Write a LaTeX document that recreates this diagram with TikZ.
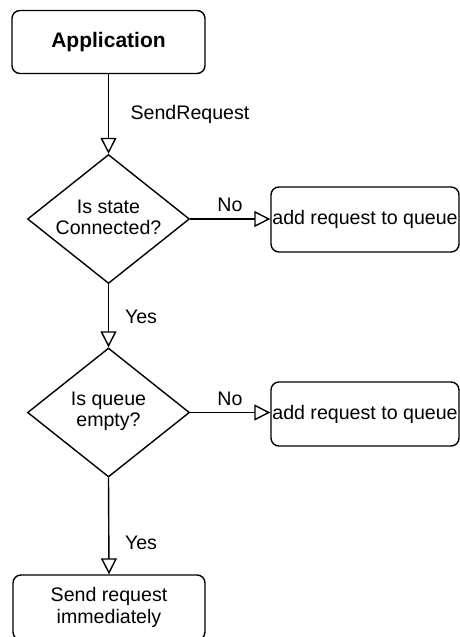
\documentclass[tikz,border=0pt]{standalone}
\usepackage{fontspec}
\setmainfont{Liberation Sans}
\usetikzlibrary{arrows.meta,shapes.geometric}
\begin{document}
\begin{tikzpicture}[x=1pt,y=-1pt,
  font=\fontsize{19.6}{21.5}\selectfont,
  line width=1.4pt,
  flow/.style={-{Triangle[open,length=16pt,width=16pt,line width=1.4pt]}},
  proc/.style={draw, rounded corners=8pt, inner sep=0pt, align=center},
  dec/.style={draw, diamond, inner sep=0pt, minimum width=162pt, minimum height=129pt},
  txt/.style={inner sep=0pt, align=center},
  lbl/.style={inner sep=0pt}]
  \clip (0,0) rectangle (460,637);
  \useasboundingbox (0,0) rectangle (460,637);

  % boxes
  \node[proc, minimum width=193pt, minimum height=63pt,
        font=\fontsize{21}{24}\selectfont\bfseries] (app) at (108.5,42) {Application};
  \node[dec] (d1) at (108.5,219) {};
  \node[txt] (t1) at (108.5,217.5) {Is state\\Connected?};
  \node[proc, minimum width=188pt, minimum height=65pt] (q1) at (365,219.5) {add request to queue};
  \node[dec] (d2) at (108.5,412.5) {};
  \node[txt] (t2) at (108.5,411.5) {Is queue\\empty?};
  \node[proc, minimum width=188pt, minimum height=64pt] (q2) at (365,414) {add request to queue};
  \node[proc, minimum width=192pt, minimum height=65pt] (send) at (109,607.5) {Send request\\immediately};

  % connectors
  \draw[flow] (app.south) -- (d1.north);
  \draw[flow] (d1.east) -- (d1.east -| q1.west);
  \draw[flow] (d1.south) -- (d2.north);
  \draw[flow] (d2.east) -- (d2.east -| q2.west);
  \draw[flow] (d2.south) -- (send.north);

  % connector labels
  \node[lbl] (l0) at (190,114) {SendRequest};
  \node[lbl] (l1) at (230,205) {No};
  \node[lbl] (l2) at (141,317) {Yes};
  \node[lbl] (l3) at (230,399) {No};
  \node[lbl] (l4) at (141,543) {Yes};
\end{tikzpicture}
\end{document}
